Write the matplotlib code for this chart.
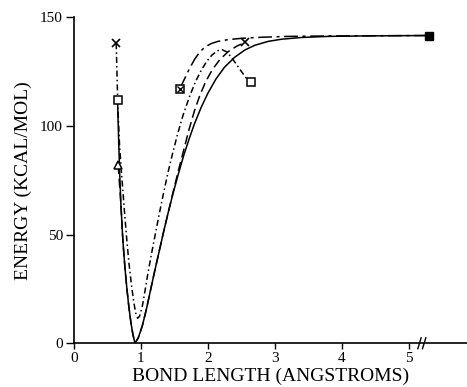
import numpy as np
import matplotlib
matplotlib.use("Agg")
import matplotlib.pyplot as plt

# curves: bond length (angstrom), energy (kcal/mol)
solid_r = [0.65, 0.665, 0.68, 0.70, 0.73, 0.76, 0.79, 0.82, 0.85, 0.88, 0.91, 0.96, 1.02, 1.08,
           1.14, 1.20, 1.27, 1.34, 1.41, 1.48, 1.56, 1.64, 1.72, 1.80, 1.90, 2.0, 2.12, 2.25,
           2.4, 2.55, 2.7, 2.9, 3.1, 3.4, 3.8, 4.3, 4.8, 5.3]
solid_e = [112, 95, 80, 64, 47, 35, 25, 16.5, 9.5, 4, 0, 2.5, 8, 15.5,
           24, 32.5, 42, 51.5, 60.5, 69, 78, 86.5, 94, 101, 108.5, 115, 121.5, 127,
           131.5, 134.8, 137, 138.8, 139.8, 140.6, 141.1, 141.3, 141.4, 141.5]

dd_r = [0.63, 0.645, 0.66, 0.68, 0.705, 0.73, 0.76, 0.79, 0.82, 0.855, 0.89, 0.92, 0.95, 0.98,
        1.02, 1.06, 1.10, 1.15, 1.21, 1.27, 1.33, 1.40, 1.47, 1.55, 1.63, 1.72, 1.81, 1.90,
        1.98, 2.06, 2.14, 2.21, 2.28, 2.35, 2.42, 2.5, 2.57, 2.63]
dd_e = [138, 120, 105, 91, 80, 70, 58, 47, 37, 27.5, 19.5, 14, 11.5, 12.5,
        17, 24, 31.5, 40, 49.5, 59, 68, 78, 87, 96.5, 105, 113, 120, 125.5,
        129.5, 132.5, 134.5, 135, 134, 131.5, 128.5, 125, 122, 120]

dash_r = [0.66, 0.70, 0.73, 0.76, 0.79, 0.82, 0.85, 0.88, 0.91, 0.96, 1.02, 1.08, 1.14, 1.20,
          1.27, 1.34, 1.41, 1.48, 1.56, 1.64, 1.72, 1.80, 1.88, 1.97, 2.07, 2.18, 2.3, 2.43, 2.56]
dash_e = [82, 64, 47, 35, 25, 16.5, 9.5, 4, 0, 2.5, 8, 15.5, 24, 32.5,
          42, 51.5, 60.5, 69.5, 79.5, 89, 98.5, 107, 114, 120.5, 126, 130.5, 134, 136.6, 138.4]

ldd_r = [1.58, 1.65, 1.72, 1.80, 1.88, 1.96, 2.05, 2.15, 2.3, 2.5, 2.8, 3.2, 3.8, 4.5, 5.3]
ldd_e = [117, 121.5, 126, 130.5, 134, 136.3, 137.8, 138.8, 139.6, 140.2, 140.7, 141.1, 141.3, 141.4, 141.5]

# end-point markers
cross_r, cross_e = [0.63, 2.56], [138, 138.4]
osq_r, osq_e = [0.65, 2.64], [112, 120]
tri_r, tri_e = [0.66], [82]
xsq_r, xsq_e = [1.58], [117]
fsq_r, fsq_e = [5.3], [141.5]

plt.rcParams['font.family'] = ['Liberation Serif', 'DejaVu Serif']

fig = plt.figure(figsize=(4.67, 3.87), dpi=100)
ax = fig.add_axes([0.1585, 0.113, 0.8415, 0.843])

lw = 1.1
ax.plot(solid_r, solid_e, color='black', lw=lw)
ax.plot(dd_r, dd_e, color='black', lw=lw, ls=(0, (4, 2, 1, 2)))
ax.plot(dash_r, dash_e, color='black', lw=lw, ls=(0, (6, 3)))
ax.plot(ldd_r, ldd_e, color='black', lw=lw, ls=(0, (9, 3, 2, 3)))

ax.plot(cross_r, cross_e, 'x', color='black', ms=6, mew=1.2, clip_on=False)
ax.plot(osq_r, osq_e, 's', mfc='white', mec='black', ms=6, mew=1.1)
ax.plot(tri_r, tri_e, '^', mfc='white', mec='black', ms=6, mew=1.1)
ax.plot(xsq_r, xsq_e, 's', mfc='white', mec='black', ms=6, mew=1.1)
ax.plot(xsq_r, xsq_e, 'x', color='black', ms=5, mew=1.0)
ax.plot(fsq_r, fsq_e, 's', color='black', ms=6, clip_on=False)

ax.set_xlim(0, 5.87)
ax.set_ylim(0, 150)
ax.spines['top'].set_visible(False)
ax.spines['right'].set_visible(False)
ax.spines['left'].set_linewidth(1.2)
ax.spines['bottom'].set_linewidth(1.2)

ax.set_xticks([0, 1, 2, 3, 4, 5])
ax.set_yticks([0, 50, 100, 150])
ax.tick_params(axis='x', direction='out', length=4, width=1, labelsize=11, pad=2)
ax.tick_params(axis='y', direction='out', length=6, width=1, labelsize=11, pad=2)

# axis break marks
for xb in (5.16, 5.23):
    ax.plot([xb - 0.025, xb + 0.025], [-2.5, 2.5], color='black', lw=1, clip_on=False)

ax.set_xlabel('BOND LENGTH (ANGSTROMS)', fontsize=14, labelpad=2)
ax.set_ylabel('ENERGY (KCAL/MOL)', fontsize=14, labelpad=6)

fig.savefig('out.png', dpi=100)
